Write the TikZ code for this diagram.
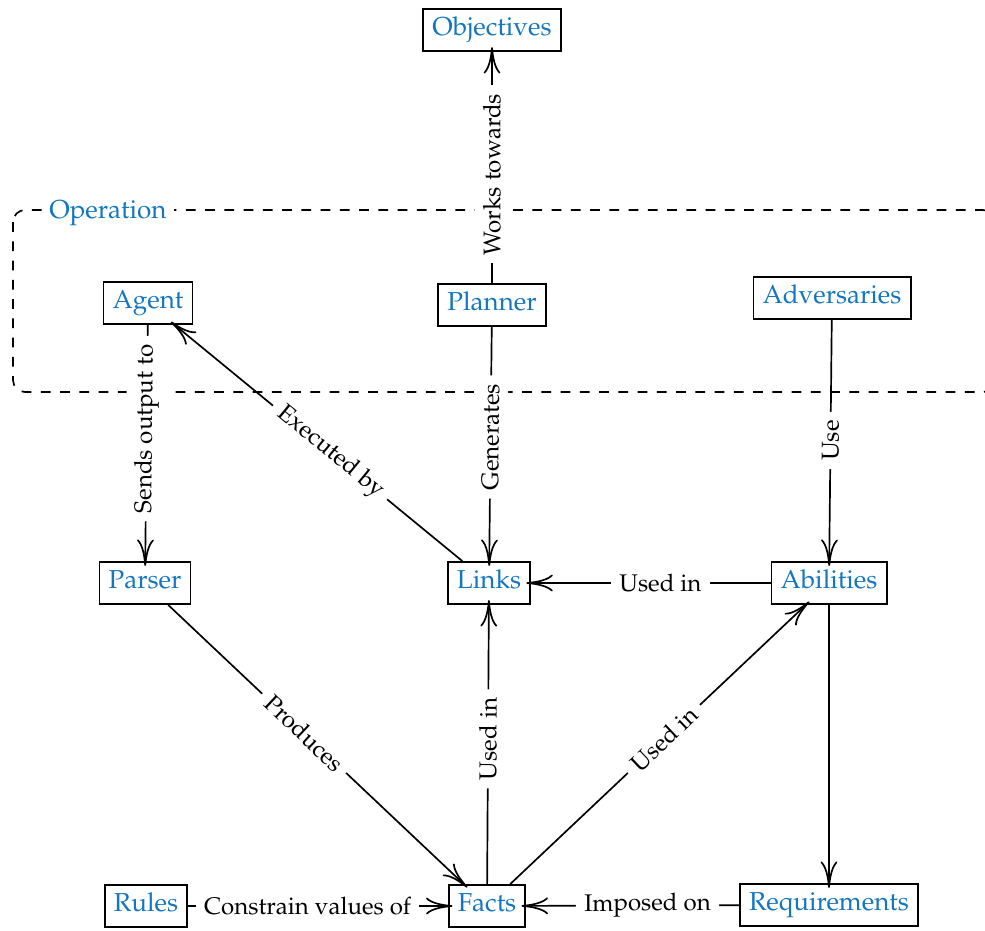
\documentclass[tikz,border=0pt]{standalone}
\usepackage[T1]{fontenc}
\usepackage{mathpazo}
\usetikzlibrary{arrows.meta}
\definecolor{nodeblue}{RGB}{20,118,192}
\tikzset{
  box/.style={draw, line width=0.8pt, text=nodeblue, inner xsep=3.8pt, inner ysep=3.3pt,
    font=\fontsize{10.8}{13}\selectfont, text height=0.78em, text depth=0.3em},
  lab/.style={fill=white, text=black, inner sep=3.5pt, sloped, font=\fontsize{10}{12}\selectfont},
  conn/.style={line width=0.7pt, >={To[length=11pt,width=7pt]}},
  fwd/.style={conn, ->, shorten >=-2pt},
  bwd/.style={conn, <-, shorten <=-2pt},
  opframe/.style={line width=0.7pt, dash pattern=on 4.1pt off 3.9pt, rounded corners=5pt}
}
\begin{document}
\begin{tikzpicture}[x=0.4156pt, y=-0.4156pt]
\useasboundingbox (0,0) rectangle (985,930);
% operation frame
\draw[opframe] (13,210) rectangle (995,392);
\node[text=nodeblue, fill=white, inner sep=3pt, font=\fontsize{10.8}{13}\selectfont] (oplabel) at (108,213) {Operation};
% nodes
\node[box] (objectives) at (492,30) {Objectives};
\node[box] (agent) at (148,303) {Agent};
\node[box] (planner) at (492,305) {Planner};
\node[box] (adversaries) at (832,298) {Adversaries};
\node[box] (parser) at (145,583) {Parser};
\node[box] (links) at (489,583) {Links};
\node[box] (abilities) at (829,583) {Abilities};
\node[box] (rules) at (146,906) {Rules};
\node[box] (facts) at (487,906) {Facts};
\node[box] (requirements) at (829,905) {Requirements};
% connectors
\draw[fwd] (planner) -- node[lab, pos=0.47] {Works towards} (objectives);
\draw[fwd] (planner) -- node[lab, pos=0.47] {Generates} (links);
\draw[bwd] (parser) -- node[lab, pos=0.56] {Sends output to} (agent);
\draw[fwd] (adversaries) -- node[lab, pos=0.5] {Use} (abilities);
\draw[fwd] (links) -- node[lab, pos=0.46] {Executed by} (agent);
\draw[fwd] (abilities) -- node[lab, pos=0.46] {Used in} (links);
\draw[fwd] (parser) -- node[lab, pos=0.46] {Produces} (facts);
\draw[fwd] (facts) -- node[lab, pos=0.52] {Used in} (links);
\draw[fwd] (facts) -- node[lab, pos=0.52] {Used in} (abilities);
\draw[fwd] (abilities) -- (requirements);
\draw[fwd] (requirements) -- node[lab, pos=0.43] {Imposed on} (facts);
\draw[fwd] (rules) -- node[lab, pos=0.46] {Constrain values of} (facts);
\end{tikzpicture}
\end{document}
